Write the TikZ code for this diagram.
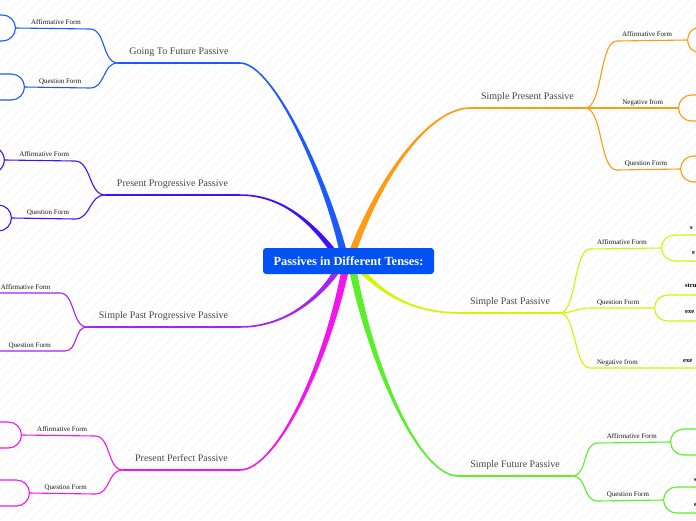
\documentclass[tikz,border=0pt]{standalone}
\usepackage{fontspec}
\setmainfont{Liberation Serif}
\usetikzlibrary{calc,positioning}
\definecolor{rootcolor}{RGB}{0,82,245}
\definecolor{gtfcolor}{RGB}{28,90,255}
\definecolor{pppcolor}{RGB}{66,16,246}
\definecolor{sppcolor}{RGB}{165,35,245}
\definecolor{ppfcolor}{RGB}{245,20,240}
\definecolor{sprcolor}{RGB}{255,155,20}
\definecolor{spscolor}{RGB}{212,245,0}
\definecolor{sfpcolor}{RGB}{88,240,40}
\tikzset{
  hatch/.style={black!5, line width=0.4pt},
  root box/.style={
    fill=rootcolor,
    text=white,
    rounded corners=3pt,
    minimum width=171pt,
    minimum height=26pt,
    font=\fontsize{12.4}{14}\selectfont\bfseries
  },
  tense line/.style={line width=1.4pt},
  form line/.style={line width=1.1pt},
  tense label/.style={anchor=base, yshift=9pt, inner sep=0pt,
    text=black!72, font=\fontsize{10}{12}\selectfont},
  form label/.style={anchor=base, yshift=4pt, inner sep=0pt,
    text=black!90, font=\fontsize{7}{8}\selectfont},
  form box/.style={draw, line width=1.1pt, rounded corners=13pt,
    minimum width=80pt, minimum height=26pt, inner sep=0pt},
  cut text/.style={anchor=west, inner sep=0pt,
    font=\fontsize{6.5}{7}\selectfont\bfseries}
}
% tapered trunk: colour, root, control 1, control 2, end, side sign
\newcommand{\trunk}[6]{%
  \fill[#1] ($(#2)+(-3.8,0)$) .. controls ($(#3)+(-2.4,0)$) and ($(#4)+(0,{(#6)*1.2})$)
    .. ($(#5)+(0,{(#6)*0.75})$) -- ($(#5)+(0,{-(#6)*0.75})$)
    .. controls ($(#4)+(0,{-(#6)*1.2})$) and ($(#3)+(2.4,0)$) .. ($(#2)+(3.8,0)$) -- cycle;}

\begin{document}
\begin{tikzpicture}[x=1pt, y=-1pt]

  \useasboundingbox (0,0) rectangle (696,520);
  \begin{scope}
  \clip (0,0) rectangle (696,520);

  % Faint diagonal texture of the canvas.
  \fill[white] (0,0) rectangle (696,520);
  \foreach \k in {-520,-510,...,700}
    \draw[hatch] (\k,520) -- ({\k+520},0);

  % Trunk roots, hidden behind the title box.
  \coordinate (gtf-root) at (344,256);
  \coordinate (ppp-root) at (337,256);
  \coordinate (spp-root) at (340,266);
  \coordinate (ppf-root) at (346,266);
  \coordinate (spr-root) at (351,256);
  \coordinate (sps-root) at (357,266);
  \coordinate (sfp-root) at (352,266);

  % Ends of the trunks and forks of the tense branches.
  \coordinate (gtf-end) at (240,63);   \coordinate (gtf-fork) at (118,63);
  \coordinate (ppp-end) at (240,195);  \coordinate (ppp-fork) at (105,195);
  \coordinate (spp-end) at (240,327);  \coordinate (spp-fork) at (87,327);
  \coordinate (ppf-end) at (240,470);  \coordinate (ppf-fork) at (123,470);
  \coordinate (spr-end) at (470,108);  \coordinate (spr-fork) at (585,108);
  \coordinate (sps-end) at (460,313);  \coordinate (sps-fork) at (560,313);
  \coordinate (sfp-end) at (458,476);  \coordinate (sfp-fork) at (572,476);

  % Tapered trunks.
  \trunk{gtfcolor}{gtf-root}{330,190}{275,63}{gtf-end}{1}
  \trunk{pppcolor}{ppp-root}{312,222}{282,195}{ppp-end}{1}
  \trunk{sppcolor}{spp-root}{318,302}{282,327}{spp-end}{-1}
  \trunk{ppfcolor}{ppf-root}{325,370}{275,470}{ppf-end}{-1}
  \trunk{sprcolor}{spr-root}{380,175}{430,108}{spr-end}{-1}
  \trunk{spscolor}{sps-root}{385,298}{418,313}{sps-end}{1}
  \trunk{sfpcolor}{sfp-root}{372,370}{420,476}{sfp-end}{1}

  % Tense branches with their names.
  \draw[gtfcolor, tense line] (gtf-end) -- (gtf-fork)
    node[tense label, midway] {Going To Future Passive};
  \draw[pppcolor, tense line] (ppp-end) -- (ppp-fork)
    node[tense label, midway] {Present Progressive Passive};
  \draw[sppcolor, tense line] (spp-end) -- (spp-fork)
    node[tense label, midway] {Simple Past Progressive Passive};
  \draw[ppfcolor, tense line] (ppf-end) -- (ppf-fork)
    node[tense label, midway] {Present Perfect Passive};
  \draw[sprcolor, tense line] (spr-end) -- (spr-fork)
    node[tense label, midway] {Simple Present Passive};
  \draw[spscolor, tense line] (sps-end) -- (sps-fork)
    node[tense label, midway] {Simple Past Passive};
  \draw[sfpcolor, tense line] (sfp-end) -- (sfp-fork)
    node[tense label, midway] {Simple Future Passive};

  % Going To Future Passive forms.
  \coordinate (gtf-aff) at (90,29);
  \coordinate (gtf-qst) at (90,88);
  \node[form box, gtfcolor, anchor=east] (gtf-aff-box) at (16,28) {};
  \node[form box, gtfcolor, anchor=east] (gtf-qst-box) at (25,87) {};
  \draw[gtfcolor, form line] (gtf-fork) .. controls +(-16,0) and +(16,0) .. (gtf-aff)
    -- (gtf-aff-box.east) node[form label, pos=0.46] {Affirmative Form};
  \draw[gtfcolor, form line] (gtf-fork) .. controls +(-16,0) and +(16,0) .. (gtf-qst)
    -- (gtf-qst-box.east) node[form label, pos=0.46] {Question Form};

  % Present Progressive Passive forms.
  \coordinate (ppp-aff) at (75,161);
  \coordinate (ppp-qst) at (75,219);
  \node[form box, pppcolor, anchor=east] (ppp-aff-box) at (5,160) {};
  \node[form box, pppcolor, anchor=east] (ppp-qst-box) at (12,218) {};
  \draw[pppcolor, form line] (ppp-fork) .. controls +(-16,0) and +(16,0) .. (ppp-aff)
    -- (ppp-aff-box.east) node[form label, pos=0.44] {Affirmative Form};
  \draw[pppcolor, form line] (ppp-fork) .. controls +(-16,0) and +(16,0) .. (ppp-qst)
    -- (ppp-qst-box.east) node[form label, pos=0.43] {Question Form};

  % Simple Past Progressive Passive forms.
  \coordinate (spp-aff) at (60,293);
  \coordinate (spp-qst) at (65,351);
  \coordinate (spp-aff-out) at (-10,293);
  \coordinate (spp-qst-out) at (-10,351);
  \draw[sppcolor, form line] (spp-fork) .. controls +(-15,0) and +(15,0) .. (spp-aff)
    -- (spp-aff-out) node[form label, pos=0.49] {Affirmative Form};
  \draw[sppcolor, form line] (spp-fork) .. controls +(-13,0) and +(13,0) .. (spp-qst)
    -- (spp-qst-out) node[form label, pos=0.47] {Question Form};

  % Present Perfect Passive forms.
  \coordinate (ppf-aff) at (95,436);
  \coordinate (ppf-qst) at (95,494);
  \node[form box, ppfcolor, anchor=east] (ppf-aff-box) at (22,435) {};
  \node[form box, ppfcolor, anchor=east] (ppf-qst-box) at (30,493) {};
  \draw[ppfcolor, form line] (ppf-fork) .. controls +(-16,0) and +(16,0) .. (ppf-aff)
    -- (ppf-aff-box.east) node[form label, pos=0.45] {Affirmative Form};
  \draw[ppfcolor, form line] (ppf-fork) .. controls +(-16,0) and +(16,0) .. (ppf-qst)
    -- (ppf-qst-box.east) node[form label, pos=0.45] {Question Form};

  % Simple Present Passive forms.
  \coordinate (spr-aff) at (617,41);
  \coordinate (spr-qst) at (617,170);
  \node[form box, sprcolor, anchor=west] (spr-aff-box) at (687,40) {};
  \node[form box, sprcolor, anchor=west] (spr-neg-box) at (678,108) {};
  \node[form box, sprcolor, anchor=west] (spr-qst-box) at (680,169) {};
  \draw[sprcolor, form line] (spr-fork) .. controls +(18,0) and +(-18,0) .. (spr-aff)
    -- (spr-aff-box.west) node[form label, pos=0.43] {Affirmative Form};
  \draw[sprcolor, form line] (spr-fork) -- (spr-neg-box.west)
    node[form label, pos=0.62] {Negative from};
  \draw[sprcolor, form line] (spr-fork) .. controls +(18,0) and +(-18,0) .. (spr-qst)
    -- (spr-qst-box.west) node[form label, pos=0.46] {Question Form};

  % Simple Past Passive forms.
  \coordinate (sps-aff) at (590,249);
  \coordinate (sps-qst) at (590,308);
  \coordinate (sps-neg) at (590,368);
  \coordinate (sps-neg-out) at (700,368);
  \node[form box, spscolor, anchor=west] (sps-aff-box) at (661,248) {};
  \node[form box, spscolor, anchor=west] (sps-qst-box) at (654,308) {};
  \draw[spscolor, form line] (sps-fork) .. controls +(16,0) and +(-16,0) .. (sps-aff)
    -- (sps-aff-box.west) node[form label, pos=0.45] {Affirmative Form};
  \draw[spscolor, form line] (sps-fork) .. controls +(14,0) and +(-14,0) .. (sps-qst)
    -- (sps-qst-box.west) node[form label, pos=0.44] {Question Form};
  \draw[spscolor, form line] (sps-fork) .. controls +(16,0) and +(-16,0) .. (sps-neg)
    -- (sps-neg-out) node[form label, pos=0.25] {Negative from};
  \node[cut text] (sps-t1) at (690,228) {s};
  \node[cut text] (sps-t2) at (692,253) {e};
  \node[cut text] (sps-t3) at (685,286) {stru};
  \node[cut text] (sps-t4) at (685,312) {exe};
  \node[cut text] (sps-t5) at (683,361) {exe};

  % Simple Future Passive forms.
  \coordinate (sfp-aff) at (598,443);
  \coordinate (sfp-qst) at (598,501);
  \node[form box, sfpcolor, anchor=west] (sfp-aff-box) at (670,442) {};
  \node[form box, sfpcolor, anchor=west] (sfp-qst-box) at (663,500) {};
  \draw[sfpcolor, form line] (sfp-fork) .. controls +(16,0) and +(-16,0) .. (sfp-aff)
    -- (sfp-aff-box.west) node[form label, pos=0.47] {Affirmative Form};
  \draw[sfpcolor, form line] (sfp-fork) .. controls +(16,0) and +(-16,0) .. (sfp-qst)
    -- (sfp-qst-box.west) node[form label, pos=0.46] {Question Form};
  \node[cut text] (sfp-t1) at (694,480) {s};
  \node[cut text] (sfp-t2) at (694,505) {e};

  % Central topic.
  \node[root box] (root) at (348.5,261) {Passives in Different Tenses:};

  \end{scope}

\end{tikzpicture}
\end{document}
